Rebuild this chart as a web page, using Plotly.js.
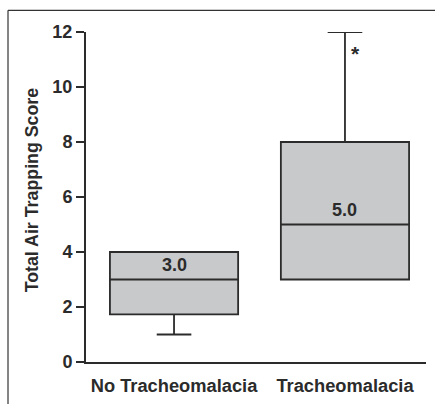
<!DOCTYPE html>
<html>
<head>
<meta charset="utf-8">
<script src="https://cdn.plot.ly/plotly-3.0.1.min.js"></script>
<style>html,body{margin:0;padding:0;background:#fff;}#chart{width:435px;height:404px;}</style>
</head>
<body>
<div id="chart"></div>
<script>
var categories = ["No Tracheomalacia", "Tracheomalacia"];
var lowerFence = [1, 3];
var q1 = [1.73, 3];
var median = [3, 5];
var q3 = [4, 8];
var upperFence = [4, 12];
var medianLabels = ["3.0", "5.0"];
var yTicks = [0, 2, 4, 6, 8, 10, 12];
var yTitle = "Total Air Trapping Score";

var FONT = "Liberation Sans, Arial, Helvetica, sans-serif";
var INK = "#2b2b2b";

var trace = {
  type: "box",
  x: categories,
  q1: q1,
  median: median,
  q3: q3,
  lowerfence: lowerFence,
  upperfence: upperFence,
  width: 0.75,
  whiskerwidth: 0.27,
  fillcolor: "#c8c9cb",
  line: {color: INK, width: 1.8},
  boxpoints: false,
  hoverinfo: "skip",
  showlegend: false
};

var annotations = categories.map(function (c, i) {
  return {
    x: c, y: median[i], xref: "x", yref: "y",
    text: medianLabels[i], showarrow: false,
    yanchor: "bottom", yshift: 3,
    font: {family: FONT, size: 18, color: INK, weight: "bold"}
  };
});
annotations.push({
  x: 1.06, y: upperFence[1], xref: "x", yref: "y",
  text: "*", showarrow: false, yanchor: "top", yshift: -8,
  font: {family: FONT, size: 21, color: INK, weight: "bold"}
});
annotations.push({
  x: -0.159, y: 0.523, xref: "paper", yref: "paper",
  xanchor: "center", yanchor: "middle",
  text: yTitle, textangle: -90, showarrow: false,
  font: {family: FONT, size: 17.8, color: INK, weight: "bold"}
});

var layout = {
  width: 435, height: 404,
  margin: {l: 86, r: 9, t: 32, b: 42, pad: 0},
  paper_bgcolor: "#fff", plot_bgcolor: "#fff",
  font: {family: FONT, color: INK},
  xaxis: {
    type: "category",
    range: [-0.515, 1.474],
    showline: true, linecolor: INK, linewidth: 2,
    ticks: "", showgrid: false, zeroline: false,
    tickfont: {family: FONT, size: 18.3, color: INK, weight: "bold"},
    ticklabelstandoff: 6
  },
  yaxis: {
    range: [0, 12],
    tickvals: yTicks,
    showline: true, linecolor: INK, linewidth: 2,
    ticks: "outside", ticklen: 8, tickwidth: 1.5, tickcolor: INK,
    showgrid: false, zeroline: false,
    tickfont: {family: FONT, size: 18, color: INK, weight: "bold"}
  },
  annotations: annotations,
  shapes: [
    {type: "line", xref: "paper", yref: "paper", x0: -0.2294, x1: -0.2294, y0: 1.0658, y1: -0.13,
     line: {color: "#333", width: 1.2}},
    {type: "line", xref: "paper", yref: "paper", x0: -0.2294, x1: 1.03, y0: 1.0658, y1: 1.0658,
     line: {color: "#333", width: 1.2}}
  ]
};

Plotly.newPlot("chart", [trace], layout, {displayModeBar: false, staticPlot: true});
</script>
</body>
</html>
